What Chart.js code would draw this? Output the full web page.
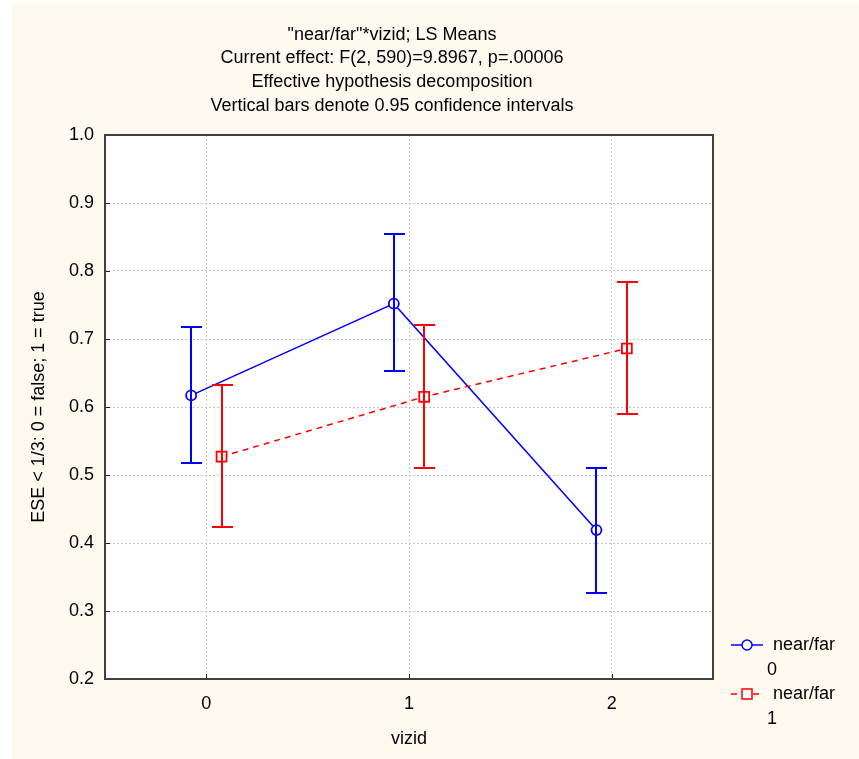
<!DOCTYPE html>
<html>
<head>
<meta charset="utf-8">
<script src="https://cdn.jsdelivr.net/npm/chart.js@4.4.1/dist/chart.umd.min.js"></script>
<style>
  body { margin: 0; background: #ffffff; }
  #wrap { position: absolute; left: 12px; top: 2px; width: 847px; height: 757px; background: #fffaf0; }
</style>
</head>
<body>
<div id="wrap"><canvas id="chart" width="847" height="757"></canvas></div>
<script>
// chart values
let titleLines = [
    '"near/far"*vizid; LS Means',
    'Current effect: F(2, 590)=9.8967, p=.00006',
    'Effective hypothesis decomposition',
    'Vertical bars denote 0.95 confidence intervals'
];
let vizid = [0, 1, 2];
let yTicks = [0.2, 0.3, 0.4, 0.5, 0.6, 0.7, 0.8, 0.9, 1.0];

let near0Mean = [0.617, 0.752, 0.419];
let near0Low = [0.517, 0.653, 0.326];
let near0High = [0.718, 0.854, 0.511];

let near1Mean = [0.527, 0.615, 0.686];
let near1Low = [0.423, 0.511, 0.589];
let near1High = [0.633, 0.721, 0.784];

let FONT = "'Liberation Sans', Arial, sans-serif";
let shift = 0.075;

function points(mean, dx)
{
    return vizid.map(function(v, i) { return { x: v + dx, y: mean[i] }; });
}

let errBars = [
    { low: near0Low, high: near0High, dx: -shift, color: "#0000ff" },
    { low: near1Low, high: near1High, dx: shift, color: "#ff0000" }
];

let framePlugin = {
    id: "frame",
    beforeDraw: function(chart)
    {
        let ctx = chart.ctx, a = chart.chartArea;
        ctx.save();
        ctx.fillStyle = "#ffffff";
        ctx.fillRect(a.left, a.top, a.right - a.left, a.bottom - a.top);
        ctx.restore();
    },
    afterDatasetsDraw: function(chart)
    {
        let ctx = chart.ctx, xs = chart.scales.x, ys = chart.scales.y;
        ctx.save();
        // confidence interval bars
        errBars.forEach(function(e)
        {
            ctx.strokeStyle = e.color;
            ctx.lineWidth = 2;
            for (let i = 0; i < vizid.length; i++)
            {
                let px = Math.round(xs.getPixelForValue(vizid[i] + e.dx));
                let y1 = Math.round(ys.getPixelForValue(e.low[i]));
                let y2 = Math.round(ys.getPixelForValue(e.high[i]));
                ctx.beginPath();
                ctx.moveTo(px, y1); ctx.lineTo(px, y2);
                ctx.moveTo(px - 10, y1); ctx.lineTo(px + 11, y1);
                ctx.moveTo(px - 10, y2); ctx.lineTo(px + 11, y2);
                ctx.stroke();
            }
        });
        ctx.restore();
    },
    afterDraw: function(chart)
    {
        let ctx = chart.ctx, a = chart.chartArea, xs = chart.scales.x, ys = chart.scales.y;
        ctx.save();
        // titles
        ctx.fillStyle = "#000000";
        ctx.font = "18px " + FONT;
        ctx.textAlign = "center";
        ctx.textBaseline = "middle";
        let ty = [33, 56, 80, 104];
        titleLines.forEach(function(t, i) { ctx.fillText(t, 380, ty[i]); });

        // inner ticks
        ctx.strokeStyle = "#202020";
        ctx.lineWidth = 1;
        ctx.beginPath();
        vizid.forEach(function(v)
        {
            let px = Math.round(xs.getPixelForValue(v)) + 0.5;
            ctx.moveTo(px, a.bottom); ctx.lineTo(px, a.bottom - 5);
        });
        yTicks.forEach(function(v)
        {
            let py = Math.round(ys.getPixelForValue(v)) + 0.5;
            ctx.moveTo(a.left, py); ctx.lineTo(a.left + 5, py);
        });
        ctx.stroke();

        // plot frame
        ctx.strokeStyle = "#404040";
        ctx.lineWidth = 2;
        ctx.strokeRect(a.left, a.top, a.right - a.left, a.bottom - a.top);

        // legend
        let lx = 719, ly = [643, 692];
        chart.data.datasets.forEach(function(ds, i)
        {
            let y = ly[i];
            ctx.strokeStyle = ds.borderColor;
            ctx.lineWidth = 1.5;
            ctx.setLineDash(ds.borderDash || []);
            ctx.beginPath();
            ctx.moveTo(lx, y); ctx.lineTo(lx + 32, y);
            ctx.stroke();
            ctx.setLineDash([]);
            ctx.fillStyle = "#ffffff";
            ctx.beginPath();
            if (ds.pointStyle === "rect")
            {
                ctx.rect(lx + 11, y - 5, 10, 10);
            }
            else
            {
                ctx.arc(lx + 16, y, 5, 0, Math.PI * 2);
            }
            ctx.fill();
            ctx.stroke();
            ctx.fillStyle = "#000000";
            ctx.font = "18px " + FONT;
            ctx.textAlign = "left";
            ctx.textBaseline = "middle";
            ctx.fillText("near/far", lx + 42, y);
            ctx.fillText(String(i), lx + 36, y + 25);
        });
        ctx.restore();
    }
};

let myChart = document.getElementById("chart").getContext("2d");
let display = new Chart(myChart,
{
    type: "scatter",
    data:
    {
        datasets: [
            {
                label: "near/far 0",
                data: points(near0Mean, -shift),
                showLine: true,
                borderColor: "#0000ff",
                borderWidth: 1.5,
                pointStyle: "circle",
                pointRadius: 5,
                pointBorderWidth: 1.8,
                pointBackgroundColor: "#ffffff",
                pointBorderColor: "#0000ff",
                order: 2
            },
            {
                label: "near/far 1",
                data: points(near1Mean, shift),
                showLine: true,
                borderColor: "#ff0000",
                borderWidth: 1.5,
                borderDash: [6, 5],
                pointStyle: "rect",
                pointRadius: 7,
                pointBorderWidth: 1.8,
                pointBackgroundColor: "#ffffff",
                pointBorderColor: "#ff0000",
                order: 1
            }
        ]
    },
    plugins: [framePlugin],
    options:
    {
        responsive: false,
        animation: false,
        events: [],
        layout: { padding: { top: 133, right: 146, left: 0, bottom: 0 } },
        plugins: { legend: { display: false }, title: { display: false }, tooltip: { enabled: false } },
        scales:
        {
            x:
            {
                type: "linear",
                min: -0.5,
                max: 2.5,
                afterBuildTicks: function(scale) { scale.ticks = vizid.map(function(v) { return { value: v }; }); },
                afterFit: function(scale) { scale.height = 80; },
                ticks: { color: "#000000", font: { family: FONT, size: 18 }, padding: 14 },
                grid: { color: "#c8c8c8", drawTicks: false },
                border: { display: false, dash: [2, 2] },
                title: { display: true, text: "vizid", color: "#000000", font: { family: FONT, size: 18 }, padding: { bottom: 9 } }
            },
            y:
            {
                min: 0.2,
                max: 1.0,
                afterBuildTicks: function(scale) { scale.ticks = yTicks.map(function(v) { return { value: v }; }); },
                afterFit: function(scale) { scale.width = 93; },
                ticks: { color: "#000000", font: { family: FONT, size: 18 }, padding: 11, callback: function(v) { return v.toFixed(1); } },
                grid: { color: "#c8c8c8", drawTicks: false },
                border: { display: false, dash: [2, 2] },
                title: { display: true, text: "ESE < 1/3: 0 = false; 1 = true", color: "#000000", font: { family: FONT, size: 18 }, padding: { top: 16 } }
            }
        }
    }
});
</script>
</body>
</html>
